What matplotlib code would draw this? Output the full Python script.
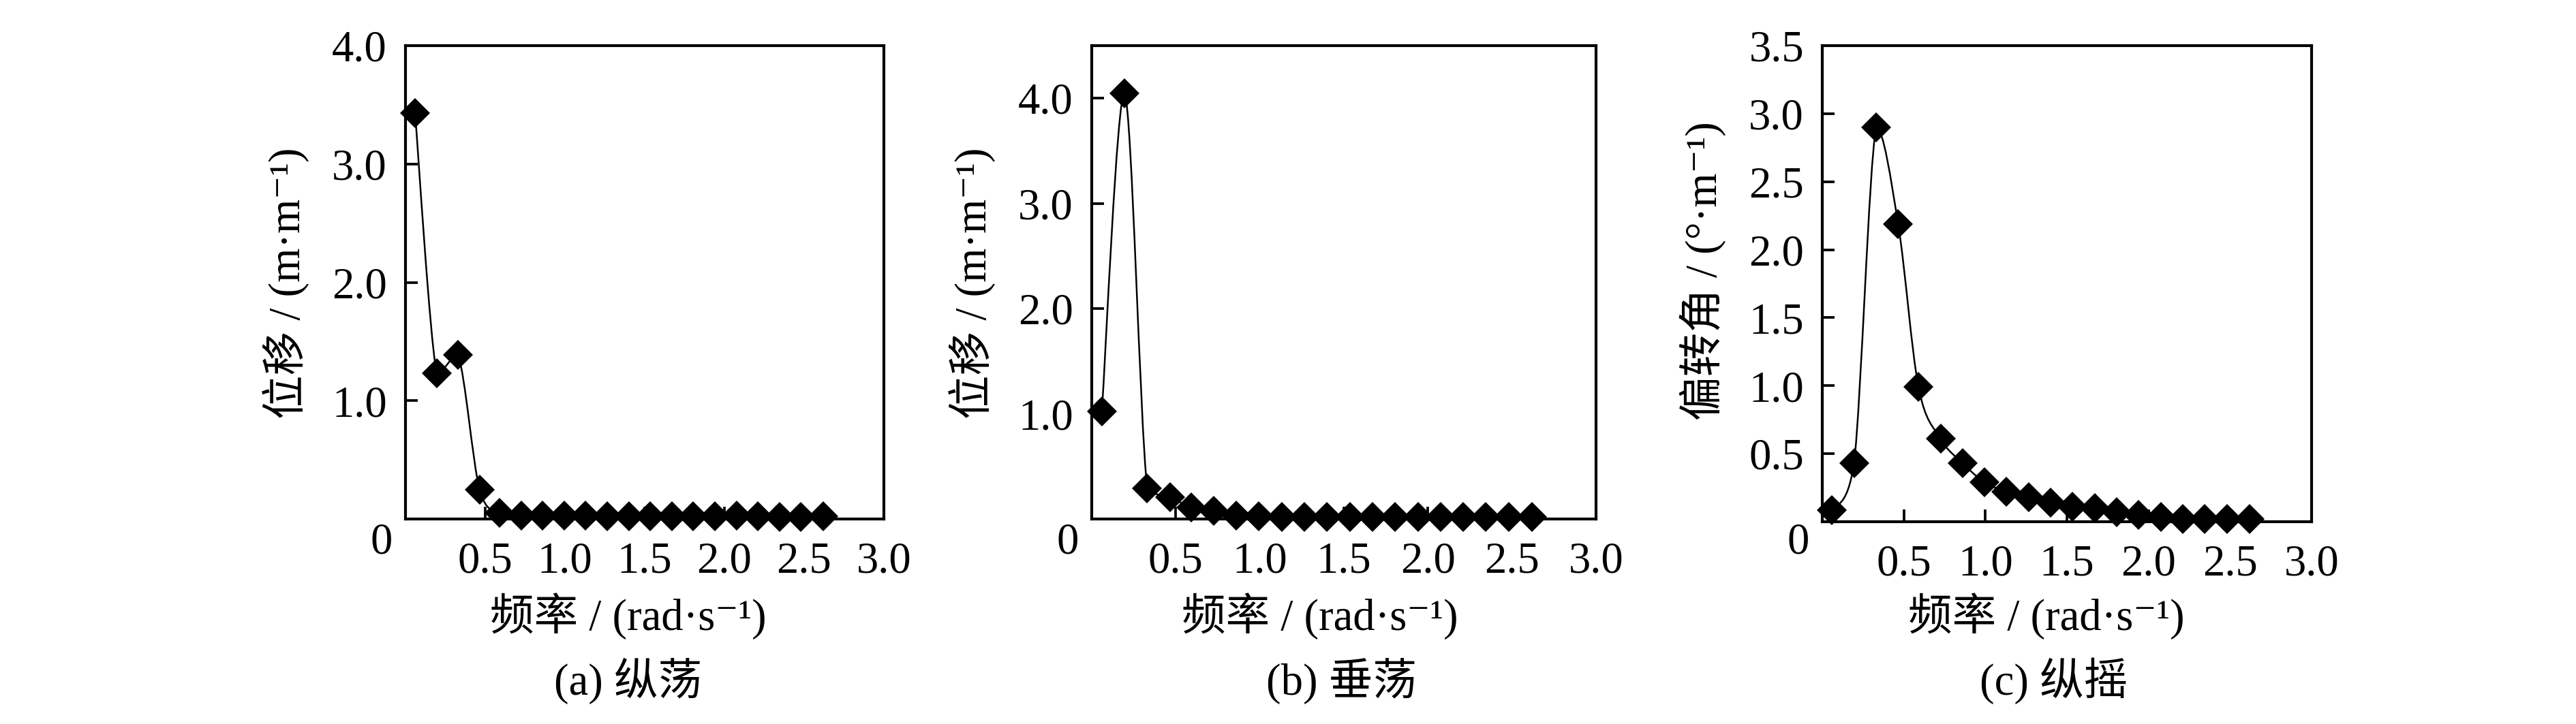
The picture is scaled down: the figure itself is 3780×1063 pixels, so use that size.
import numpy as np
import matplotlib
matplotlib.use("Agg")
import matplotlib.pyplot as plt
from matplotlib.path import Path
from matplotlib.patches import PathPatch

plt.rcParams['font.family'] = ['Liberation Serif', 'Noto Sans CJK SC', 'DejaVu Sans']

# 频率 (rad/s)
freq = [0.06, 0.195, 0.33, 0.465, 0.59, 0.725, 0.86, 0.995, 1.13, 1.265,
        1.40, 1.535, 1.67, 1.805, 1.94, 2.075, 2.21, 2.345, 2.48, 2.62]

# 纵荡 位移
surge = [3.43, 1.23, 1.385, 0.245, 0.05, 0.03, 0.03, 0.03, 0.03, 0.025,
         0.025, 0.025, 0.025, 0.025, 0.025, 0.03, 0.025, 0.02, 0.02, 0.025]
# 垂荡 位移
heave = [1.02, 4.05, 0.29, 0.21, 0.11, 0.075, 0.035, 0.025, 0.02, 0.02,
         0.02, 0.02, 0.02, 0.02, 0.02, 0.02, 0.02, 0.02, 0.02, 0.02]
# 纵摇 偏转角
pitch = [0.085, 0.43, 2.90, 2.19, 0.99, 0.61, 0.43, 0.29, 0.22, 0.18,
         0.14, 0.11, 0.10, 0.07, 0.05, 0.035, 0.02, 0.02, 0.02, 0.02]

xticks = [0.5, 1.0, 1.5, 2.0, 2.5, 3.0]
yticks_a = [1.0, 2.0, 3.0, 4.0]
yticks_b = [1.0, 2.0, 3.0, 4.0]
yticks_c = [0.5, 1.0, 1.5, 2.0, 2.5, 3.0, 3.5]

ylabels = ['位移 / (m·m⁻¹)', '位移 / (m·m⁻¹)', '偏转角 / (°·m⁻¹)']
xlabel = '频率 / (rad·s⁻¹)'
titles = ['(a) 纵荡', '(b) 垂荡', '(c) 纵摇']

W, H = 3780, 1063
fig = plt.figure(figsize=(W / 300, H / 300), dpi=300)

# axes boxes in pixels: left, right, top, bottom
boxes = [(595, 1297, 67, 762), (1602, 2342, 67, 762), (2674, 3392, 67, 766)]
ylims = [4.0, 4.5, 3.5]
series = [surge, heave, pitch]
yticks_all = [yticks_a, yticks_b, yticks_c]
xlab_cx = [922, 1937, 3003]
title_cx = [922, 1968, 3014]
ylab_cy = [416, 416, 398]


def smooth_path(x, y):
    # smoothed line: cubic Bezier segments through the points,
    # control points kept inside each segment's y range (no dips)
    pts = np.column_stack([x, y])
    ext = np.vstack([pts[0], pts, pts[-1]])
    verts = [pts[0]]
    codes = [Path.MOVETO]
    for i in range(len(pts) - 1):
        p0, p1, p2, p3 = ext[i], ext[i + 1], ext[i + 2], ext[i + 3]
        c1 = p1 + (p2 - p0) / 6
        c2 = p2 - (p3 - p1) / 6
        lo, hi = min(p1[1], p2[1]), max(p1[1], p2[1])
        c1[1] = np.clip(c1[1], lo, hi)
        c2[1] = np.clip(c2[1], lo, hi)
        verts += [c1, c2, p2]
        codes += [Path.CURVE4] * 3
    return Path(verts, codes)


fs = 15.5
for i in range(3):
    l, r, t, b = boxes[i]
    ax = fig.add_axes([l / W, (H - b) / H, (r - l) / W, (b - t) / H])
    ax.add_patch(PathPatch(smooth_path(freq, series[i]), fill=False,
                           edgecolor='black', lw=0.6, clip_on=False))
    ax.plot(freq, series[i], linestyle='none', marker='D', ms=7.6,
            color='black', mew=0, clip_on=False, zorder=3)
    ax.set_xlim(0, 3.0)
    ax.set_ylim(0, ylims[i])
    ax.set_xticks(xticks)
    ax.set_xticklabels([f'{v:.1f}' for v in xticks])
    ax.set_yticks(yticks_all[i])
    ax.set_yticklabels([f'{v:.1f}' for v in yticks_all[i]])
    ax.tick_params(direction='in', length=4.4, width=0.9, labelsize=fs,
                   top=False, right=False)
    ax.tick_params(axis='x', pad=8)
    ax.tick_params(axis='y', pad=6.5)
    for s in ax.spines.values():
        s.set_linewidth(1.0)

    # origin label "0"
    fig.text((l - 35) / W, (H - 797) / H, '0', fontsize=fs,
             ha='center', va='center')
    # y label
    fig.text((l - 175) / W, (H - ylab_cy[i]) / H, ylabels[i], fontsize=fs,
             rotation=90, ha='center', va='center')
    # x label and panel title
    fig.text(xlab_cx[i] / W, (H - 905) / H, xlabel, fontsize=fs,
             ha='center', va='center')
    fig.text(title_cx[i] / W, (H - 1000) / H, titles[i], fontsize=fs,
             ha='center', va='center')

fig.savefig('out.png', dpi=300)
